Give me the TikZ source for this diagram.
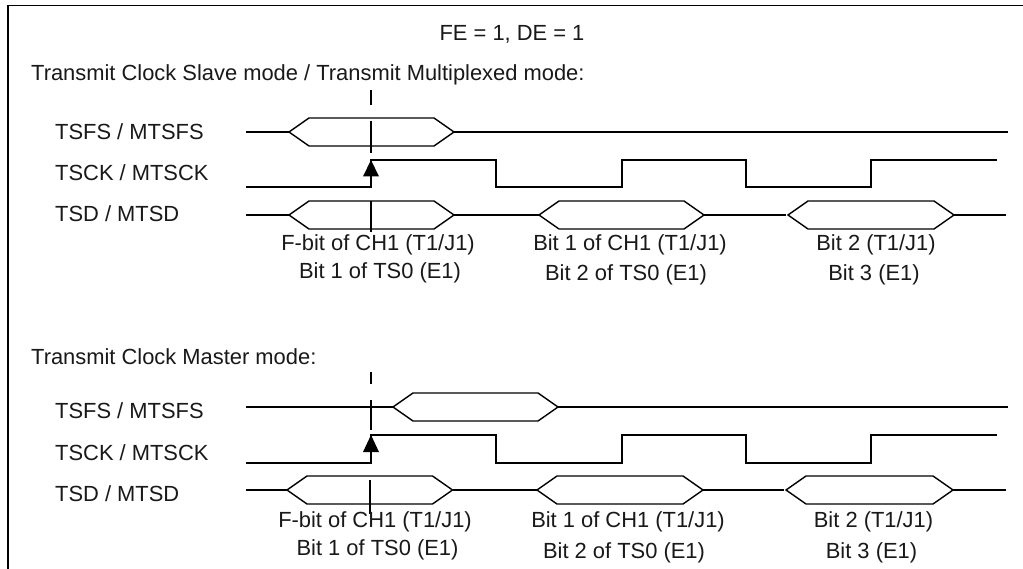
\documentclass[tikz,border=0pt]{standalone}
\usepackage{fontspec}
\setmainfont{Liberation Sans}
\tikzset{
  wave/.style={draw=black,line width=1.4pt,line join=miter},
  lbl/.style={inner sep=0pt,font=\fontsize{21.9pt}{26pt}\selectfont,text=black!90},
  sig/.style={lbl,anchor=base west},
  captxt/.style={lbl,anchor=base,align=center},
  tipmark/.style={fill=black,draw=none}
}
\newcommand{\hexa}[4]{% x-left, x-right, y-centre, half height
  \draw[wave] (#1,#3) -- ++(20,#4) -- ({#2-20},{#3+#4}) -- (#2,#3) -- ({#2-20},{#3-#4}) -- ({#1+20},{#3-#4}) -- cycle;}
\begin{document}
\begin{tikzpicture}[x=1pt,y=-1pt]
\useasboundingbox (0,0) rectangle (1023,569);
\fill[white] (0,0) rectangle (1023,569);
\coordinate (fa) at (8,569);
\coordinate (fb) at (8,5.5);
\coordinate (fc) at (1023,5.5);
\draw[wave] (fa) -- (fb) -- (fc);
\node[lbl,anchor=base] (title) at (512,41) {FE = 1, DE = 1};
\node[lbl,anchor=base west] (m1) at (31,81) {Transmit Clock Slave mode / Transmit Multiplexed mode:};
\node[lbl,anchor=base west] (m2) at (31,364) {Transmit Clock Master mode:};
% upper block
\node[sig] (a1) at (55,140) {TSFS / MTSFS};
\node[sig] (a2) at (55,181) {TSCK / MTSCK};
\node[sig] (a3) at (55,222) {TSD / MTSD};
\draw[wave] (246,132) -- (289,132);
\hexa{289}{454}{132}{14}
\draw[wave] (454,132) -- (1008,132);
\draw[wave] (246,187) -- (371,187) -- (371,160) -- (496,160) -- (496,187) -- (622,187) -- (622,160) -- (746,160) -- (746,187) -- (871,187) -- (871,160) -- (997,160);
\draw[wave] (246,215) -- (289,215);
\hexa{289}{454}{215}{14}
\draw[wave] (454,215) -- (539,215);
\hexa{539}{704}{215}{14}
\draw[wave] (704,215) -- (786,215);
\hexa{788}{954}{215}{14}
\draw[wave] (954,215) -- (1006,215);
\draw[wave] (371,90) -- (371,105);
\draw[wave] (371,121) -- (371,153);
\fill[tipmark] (371,160) -- (379,176.5) -- (363,176.5) -- cycle;
\draw[wave] (371,201) -- (371,232);
\node[captxt] (c1) at (378,251) {F-bit of CH1 (T1/J1)};
\node[captxt] (c2) at (380,279) {Bit 1 of TS0 (E1)};
\node[captxt] (c3) at (630,251) {Bit 1 of CH1 (T1/J1)};
\node[captxt] (c4) at (626,281) {Bit 2 of TS0 (E1)};
\node[captxt] (c5) at (876,251) {Bit 2 (T1/J1)};
\node[captxt] (c6) at (874,281) {Bit 3 (E1)};
% lower block
\node[sig] (b1) at (55,418) {TSFS / MTSFS};
\node[sig] (b2) at (55,460) {TSCK / MTSCK};
\node[sig] (b3) at (55,501) {TSD / MTSD};
\draw[wave] (246,407) -- (393,407);
\hexa{393}{558}{407}{14}
\draw[wave] (558,407) -- (1008,407);
\draw[wave] (246,463) -- (371,463) -- (371,435) -- (496,435) -- (496,463) -- (622,463) -- (622,435) -- (746,435) -- (746,463) -- (871,463) -- (871,435) -- (997,435);
\draw[wave] (246,490) -- (287,490);
\hexa{287}{452.5}{490}{14}
\draw[wave] (452.5,490) -- (537,490);
\hexa{537}{703}{490}{14}
\draw[wave] (703,490) -- (784,490);
\hexa{786}{953}{490}{14}
\draw[wave] (953,490) -- (1006,490);
\draw[wave] (371,372) -- (371,384);
\draw[wave] (371,400) -- (371,430);
\fill[tipmark] (371,435) -- (379,452) -- (363,452) -- cycle;
\draw[wave] (370,480) -- (370,514);
\node[captxt] (d1) at (375,527) {F-bit of CH1 (T1/J1)};
\node[captxt] (d2) at (377.5,555) {Bit 1 of TS0 (E1)};
\node[captxt] (d3) at (628,527) {Bit 1 of CH1 (T1/J1)};
\node[captxt] (d4) at (624,558) {Bit 2 of TS0 (E1)};
\node[captxt] (d5) at (873.5,527) {Bit 2 (T1/J1)};
\node[captxt] (d6) at (871.5,558) {Bit 3 (E1)};
\end{tikzpicture}
\end{document}
